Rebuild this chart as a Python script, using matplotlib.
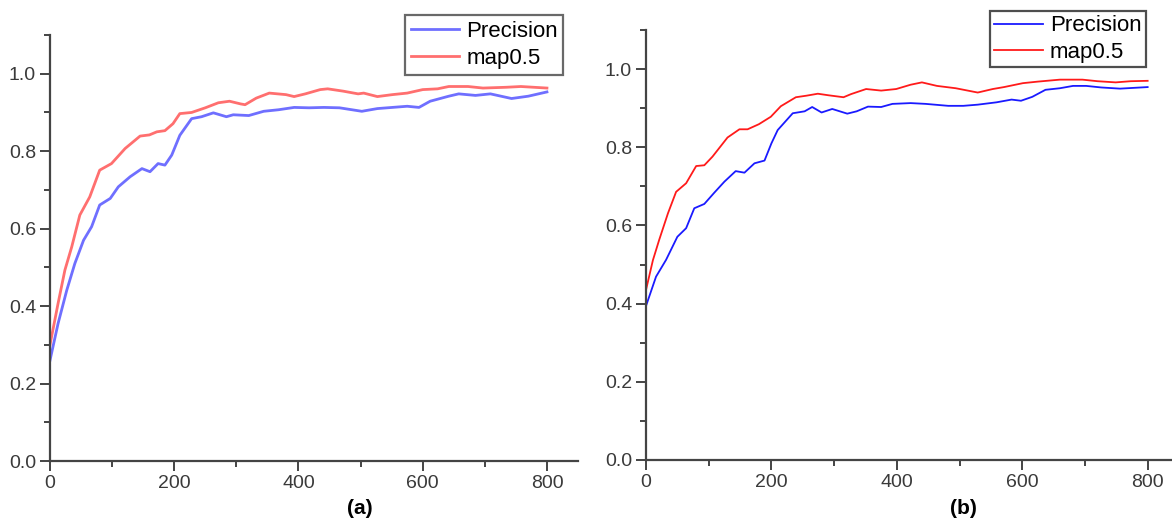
import matplotlib
matplotlib.use("Agg")
import matplotlib.pyplot as plt
from matplotlib.ticker import MultipleLocator

plt.rcParams['font.family'] = ['Liberation Sans', 'DejaVu Sans']

# ---- panel (a) values ----
a_prec_x = [0, 13, 27, 40, 54, 67, 80, 97, 110, 129, 148, 161, 174, 185, 196, 209, 228, 244,
            263, 284, 295, 320, 344, 368, 393, 417, 441, 466, 502, 527, 551, 575, 594, 612,
            642, 658, 685, 709, 743, 770, 800]
a_prec_y = [0.260, 0.355, 0.441, 0.510, 0.570, 0.605, 0.661, 0.678, 0.708, 0.734, 0.755, 0.747,
            0.768, 0.764, 0.790, 0.841, 0.884, 0.889, 0.899, 0.889, 0.894, 0.892, 0.903, 0.907,
            0.913, 0.912, 0.913, 0.912, 0.903, 0.910, 0.913, 0.916, 0.913, 0.929, 0.942, 0.948,
            0.944, 0.948, 0.936, 0.942, 0.953]
a_map_x = [0, 13, 24, 35, 48, 64, 80, 99, 121, 145, 160, 172, 185, 198, 209, 228, 250, 271,
           289, 307, 314, 332, 353, 380, 393, 411, 435, 447, 472, 496, 505, 527, 551, 575, 600,
           624, 642, 673, 697, 734, 758, 800]
a_map_y = [0.300, 0.407, 0.493, 0.553, 0.635, 0.682, 0.751, 0.768, 0.807, 0.839, 0.842, 0.850,
           0.853, 0.871, 0.897, 0.900, 0.912, 0.925, 0.929, 0.922, 0.920, 0.937, 0.950, 0.946,
           0.941, 0.948, 0.959, 0.961, 0.955, 0.948, 0.950, 0.941, 0.946, 0.950, 0.959, 0.961,
           0.967, 0.967, 0.963, 0.965, 0.967, 0.963]

# ---- panel (b) values ----
b_prec_x = [0, 16, 32, 50, 64, 77, 93, 109, 125, 143, 157, 173, 189, 200, 210, 234, 253, 265,
            280, 297, 321, 336, 354, 375, 393, 422, 446, 482, 506, 529, 559, 583, 598, 616, 637,
            660, 681, 702, 726, 756, 800]
b_prec_y = [0.394, 0.469, 0.512, 0.571, 0.593, 0.644, 0.655, 0.684, 0.712, 0.739, 0.735, 0.759,
            0.766, 0.810, 0.844, 0.887, 0.892, 0.903, 0.889, 0.898, 0.886, 0.892, 0.904, 0.903,
            0.911, 0.913, 0.911, 0.906, 0.906, 0.909, 0.915, 0.922, 0.919, 0.929, 0.947, 0.951,
            0.957, 0.957, 0.953, 0.950, 0.954]
b_map_x = [0, 11, 21, 35, 48, 64, 80, 93, 106, 130, 149, 162, 180, 199, 215, 239, 256, 274,
           291, 315, 327, 351, 375, 399, 422, 440, 464, 494, 529, 553, 571, 601, 625, 660, 696,
           720, 749, 773, 800]
b_map_y = [0.435, 0.511, 0.563, 0.631, 0.686, 0.708, 0.752, 0.754, 0.776, 0.825, 0.846, 0.846,
           0.859, 0.878, 0.905, 0.928, 0.932, 0.937, 0.933, 0.928, 0.936, 0.949, 0.945, 0.949,
           0.960, 0.966, 0.957, 0.951, 0.940, 0.949, 0.954, 0.964, 0.968, 0.973, 0.973, 0.969,
           0.966, 0.969, 0.970]

labels = ['Precision', 'map0.5']
x_ticks = [0, 200, 400, 600, 800]
y_ticks = [0.0, 0.2, 0.4, 0.6, 0.8, 1.0]

W, H = 1172, 522
fig = plt.figure(figsize=(W / 100, H / 100), dpi=100)


def px_axes(left, bottom_px, width, height):
    # bottom_px measured from the top of the picture
    return fig.add_axes([left / W, (H - bottom_px) / H, width / W, height / H])


def style(ax):
    for s in ['top', 'right']:
        ax.spines[s].set_visible(False)
    for s in ['left', 'bottom']:
        ax.spines[s].set_color('#444444')
        ax.spines[s].set_linewidth(1.6)
    ax.set_xlim(0, 850)
    ax.set_ylim(0, 1.1)
    ax.set_xticks(x_ticks)
    ax.set_yticks(y_ticks)
    ax.set_yticklabels(['%.1f' % v for v in y_ticks])
    ax.xaxis.set_minor_locator(MultipleLocator(100))
    ax.yaxis.set_minor_locator(MultipleLocator(0.1))
    ax.tick_params(which='major', direction='out', length=7, width=1.4, color='#444444',
                   labelsize=14, labelcolor='#3a3a3a', pad=3)
    ax.tick_params(which='minor', direction='out', length=4, width=1.4, color='#444444')
    ax.patch.set_alpha(0)


# panel (a)
ax1 = px_axes(50, 461, 528, 426)
style(ax1)
ax1.plot(a_prec_x, a_prec_y, color='#6f6fff', lw=2.0, label=labels[0])
ax1.plot(a_map_x, a_map_y, color='#ff6f6f', lw=2.0, label=labels[1])
ax1.legend(loc='upper left', bbox_to_anchor=(405 / W, 1 - 15 / H), bbox_transform=fig.transFigure,
           fontsize=16, frameon=True, fancybox=False, edgecolor='#444444', borderaxespad=0,
           handlelength=2.2, handletextpad=0.3, borderpad=0.25, labelspacing=0.3)
ax1.get_legend().get_frame().set_linewidth(1.6)
fig.text(360 / W, 1 - 508 / H, '(a)', ha='center', va='center', fontsize=15, fontweight='bold')

# panel (b)
ax2 = px_axes(646, 460, 533, 430)
style(ax2)
ax2.plot(b_prec_x, b_prec_y, color='#1a1aff', lw=1.3, label=labels[0])
ax2.plot(b_map_x, b_map_y, color='#ff1a1a', lw=1.3, label=labels[1])
ax2.legend(loc='upper left', bbox_to_anchor=(990 / W, 1 - 11 / H), bbox_transform=fig.transFigure,
           fontsize=16, frameon=True, fancybox=False, edgecolor='#222222', borderaxespad=0,
           handlelength=2.2, handletextpad=0.3, borderpad=0.2, labelspacing=0.25)
ax2.get_legend().get_frame().set_linewidth(1.6)
fig.text(963 / W, 1 - 508 / H, '(b)', ha='center', va='center', fontsize=15, fontweight='bold')

fig.savefig('out.png', dpi=100)
